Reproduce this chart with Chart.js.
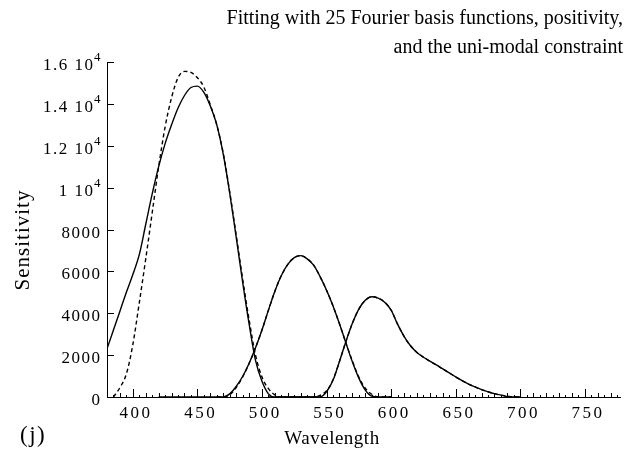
<!DOCTYPE html>
<html>
<head>
<meta charset="utf-8">
<script src="https://cdn.jsdelivr.net/npm/chart.js@4/dist/chart.umd.min.js"></script>
<style>
  html, body { margin: 0; padding: 0; background: #fff; }
  #wrap { width: 630px; height: 457px; }
</style>
</head>
<body>
<div id="wrap"><canvas id="myChart" width="630" height="457"></canvas></div>
<script>
// longitudes de onda (nm), una por punto
const wavelengths = [380, 385, 390, 395, 400, 405, 410, 415, 420, 425, 430, 435, 440, 445, 450, 455,
    460, 465, 470, 475, 480, 485, 490, 495, 500, 505, 510, 515, 520, 525, 530, 535,
    540, 545, 550, 555, 560, 565, 570, 575, 580, 585, 590, 595, 600, 605, 610, 615,
    620, 625, 630, 635, 640, 645, 650, 655, 660, 665, 670, 675, 680, 685, 690, 695, 700];

// curva S: ajuste (linea llena) y objetivo (punteada)
const sFit = [2300, 3200, 4100, 5000, 5850, 6800, 8250, 9700, 11000, 12100, 13000, 13800, 14400, 14780, 14850, 14550,
    13900, 13000, 11600, 9750, 7650, 5500, 3500, 1750, 750, 150, 0, 0, 0, 0, 0, null,
    null, null, null, null, null, null, null, null, null, null, null, null, null, null, null, null,
    null, null, null, null, null, null, null, null, null, null, null, null, null, null, null, null, null];
const sTarget = [null, 0, 450, 1100, 2500, 4500, 6600, 8800, 11000, 12900, 14300, 15250, 15550, 15500, 15250, 14800,
    13950, 13000, 11650, 9800, 7750, 5650, 3700, 2000, 950, 400, 100, 0, 0, 0, 0, 0,
    0, 0, null, null, null, null, null, null, null, null, null, null, null, null, null, null,
    null, null, null, null, null, null, null, null, null, null, null, null, null, null, null, null, null];

// curva M
const mFit = [null, null, null, null, null, null, null, null, 0, 0, 0, 0, 0, 0, 0, 0,
    0, 0, 0, 150, 500, 980, 1600, 2350, 3200, 4150, 5050, 5800, 6330, 6660, 6750, 6600,
    6300, 5750, 5100, 4350, 3500, 2580, 1680, 900, 330, 40, 0, 0, 0, null, null, null,
    null, null, null, null, null, null, null, null, null, null, null, null, null, null, null, null, null];
const mTarget = [null, null, null, null, null, null, null, null, null, null, null, null, null, null, null, null,
    null, 0, 0, 100, 450, 950, 1600, 2350, 3200, 4150, 5050, 5800, 6330, 6660, 6750, 6600,
    6300, 5750, 5100, 4350, 3500, 2580, 1720, 950, 420, 130, 0, 0, 0, null, null, null,
    null, null, null, null, null, null, null, null, null, null, null, null, null, null, null, null, null];

// curva L
const lFit = [null, null, null, null, null, null, null, null, null, null, null, null, null, null, null, null,
    null, null, null, null, null, null, null, null, null, null, null, null, null, null, 0, 0,
    0, 0, 250, 800, 1700, 2650, 3520, 4200, 4620, 4790, 4720, 4530, 4150, 3480, 2900, 2450,
    2130, 1900, 1710, 1530, 1340, 1150, 960, 780, 620, 480, 350, 250, 160, 90, 20, 0, 0];
const lTarget = [null, null, null, null, null, null, null, null, null, null, null, null, null, null, null, null,
    null, null, null, null, null, null, null, null, null, 0, 0, 0, 0, 0, 0, 0,
    0, 80, 300, 820, 1700, 2650, 3520, 4200, 4620, 4790, 4720, 4530, 4150, 3480, 2900, 2450,
    2130, 1900, 1710, 1530, 1340, 1150, 960, 780, 620, 480, 350, 250, 160, 90, 40, 0, 0];

// ejes y etiquetas
const xTicks = [400, 450, 500, 550, 600, 650, 700, 750];
const yTicks = [0, 2000, 4000, 6000, 8000, 10000, 12000, 14000, 16000];
const yTickText = ['0', '2000', '4000', '6000', '8000', '1 10', '1.2 10', '1.4 10', '1.6 10'];
const yTickSup = ['', '', '', '', '', '4', '4', '4', '4'];

const titulo = ['Fitting with 25 Fourier basis functions, positivity,', 'and the uni-modal constraint'];

const serif = '"Liberation Serif", "Times New Roman", serif';

function serie(label, valores, punteada) {
    return {
        label: label,
        data: wavelengths.map((w, i) => ({ x: w, y: valores[i] })),
        borderColor: '#000',
        borderWidth: 1.4,
        borderDash: punteada ? [4, 3] : [],
        pointRadius: 0,
        cubicInterpolationMode: 'monotone',
        spanGaps: false,
        fill: false,
    };
}

// texto alineado a la derecha con espaciado (el espaciado final no cuenta)
function textoDerecha(ctx, txt, xDer, yBase, esp) {
    ctx.letterSpacing = esp + 'px';
    const w = ctx.measureText(txt).width - esp;
    ctx.textAlign = 'left';
    ctx.fillText(txt, xDer - w, yBase);
}

// dibuja ejes, marcas y textos a mano (estilo Mathematica)
const decoracion = {
    id: 'decoracion',
    afterDraw(chart) {
        const { ctx, chartArea: a, scales: { x, y } } = chart;
        ctx.save();
        ctx.strokeStyle = '#000';
        ctx.fillStyle = '#000';
        ctx.lineWidth = 1;

        // lineas de ejes
        ctx.beginPath();
        ctx.moveTo(a.left + 0.5, a.top);
        ctx.lineTo(a.left + 0.5, a.bottom + 0.5);
        ctx.lineTo(a.right, a.bottom + 0.5);
        ctx.stroke();

        // marcas eje x (hacia adentro)
        ctx.beginPath();
        for (let w = 380; w <= 775; w += 5) {
            const px = Math.round(x.getPixelForValue(w)) + 0.5;
            let len = 2;
            if (w % 50 === 0) len = 8;
            else if (w % 10 === 0) len = 4;
            ctx.moveTo(px, a.bottom);
            ctx.lineTo(px, a.bottom - len);
        }
        // marcas eje y
        yTicks.forEach(v => {
            const py = Math.round(y.getPixelForValue(v)) + 0.5;
            ctx.moveTo(a.left, py);
            ctx.lineTo(a.left + 7, py);
        });
        ctx.stroke();

        // etiquetas eje x
        ctx.font = '17px ' + serif;
        ctx.textBaseline = 'alphabetic';
        xTicks.forEach(v => {
            ctx.letterSpacing = '2.5px';
            const w = ctx.measureText(String(v)).width - 2.5;
            ctx.textAlign = 'left';
            ctx.fillText(String(v), x.getPixelForValue(v) + 2 - w / 2, a.bottom + 21);
        });

        // etiquetas eje y (con exponente)
        yTicks.forEach((v, i) => {
            const py = y.getPixelForValue(v);
            ctx.font = '17px ' + serif;
            if (yTickSup[i]) {
                textoDerecha(ctx, yTickText[i], a.left - 14, py + 8, 1.5);
                ctx.font = '13px ' + serif;
                ctx.letterSpacing = '0px';
                ctx.textAlign = 'left';
                ctx.fillText(yTickSup[i], a.left - 13, py - 1);
            } else {
                textoDerecha(ctx, yTickText[i], a.left - 7, py + 8, 1.5);
            }
        });

        // titulo alineado a la derecha
        ctx.font = '20px ' + serif;
        ctx.letterSpacing = '0px';
        ctx.textAlign = 'right';
        ctx.fillText(titulo[0], 623, 24);
        ctx.fillText(titulo[1], 623, 53);

        // titulos de ejes
        ctx.font = '19px ' + serif;
        ctx.letterSpacing = '0.5px';
        ctx.textAlign = 'center';
        ctx.fillText('Wavelength', 332, 444);
        ctx.letterSpacing = '1.5px';
        ctx.font = '23px ' + serif;
        ctx.textAlign = 'left';
        ctx.fillText('(j)', 20, 442);

        ctx.save();
        ctx.translate(29, 240);
        ctx.rotate(-Math.PI / 2);
        ctx.font = '21px ' + serif;
        ctx.letterSpacing = '1px';
        ctx.textAlign = 'center';
        ctx.fillText('Sensitivity', 0, 0);
        ctx.restore();

        ctx.restore();
    }
};

const ctx = document.getElementById('myChart').getContext('2d');
const myChart = new Chart(ctx, {
    type: 'line',
    data: {
        datasets: [
            serie('S ajuste', sFit, false),
            serie('S objetivo', sTarget, true),
            serie('M ajuste', mFit, false),
            serie('M objetivo', mTarget, true),
            serie('L ajuste', lFit, false),
            serie('L objetivo', lTarget, true),
        ],
    },
    options: {
        responsive: false,
        animation: false,
        devicePixelRatio: 1,
        layout: { padding: { left: 107, top: 62, right: 9, bottom: 60 } },
        scales: {
            x: { type: 'linear', min: 380, max: 778, display: false },
            y: { min: 0, max: 16000, display: false },
        },
        plugins: {
            legend: { display: false },
            tooltip: { enabled: false },
        },
    },
    plugins: [decoracion],
});
</script>
</body>
</html>
